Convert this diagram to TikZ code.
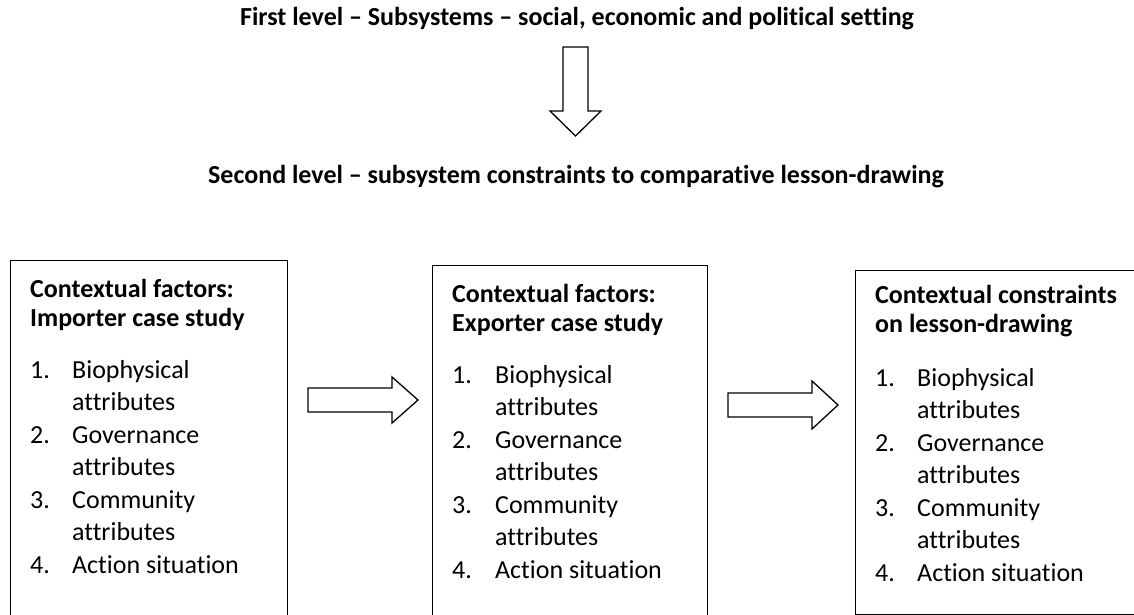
\documentclass[tikz,border=0pt]{standalone}
\usepackage{fontspec}
\setmainfont{Carlito}[Ligatures=NoCommon]
\begin{document}
\begin{tikzpicture}[x=1pt,y=-1pt,
  frame/.style={draw=black, line width=1.3pt, inner sep=0pt, anchor=north west},
  titletext/.style={font=\fontsize{26}{31}\selectfont\bfseries, anchor=base, inner sep=0pt},
  headtext/.style={font=\fontsize{26}{31}\selectfont\bfseries, anchor=base west, inner sep=0pt},
  itemtext/.style={font=\fontsize{26}{31}\selectfont, anchor=base west, inner sep=0pt},
  blockarrow/.style={draw=black, line width=1.3pt, fill=white, line join=miter}]
\useasboundingbox (0,0) rectangle (1134,615);
\clip (0,0) rectangle (1134,615);

% titles
\node[titletext] (t1) at (577,26) {First level – Subsystems – social, economic and political setting};
\node[titletext] (t2) at (576,183) {Second level – subsystem constraints to comparative lesson-drawing};

% down arrow
\draw[blockarrow] (563,47) -- (588,47) -- (588,111) -- (601,111) -- (575.5,136) -- (550,111) -- (563,111) -- cycle;

% boxes
\node[frame, minimum width=277pt, minimum height=400pt] (box1) at (10,260) {};
\node[frame, minimum width=275pt, minimum height=400pt] (box2) at (432,265) {};
\node[frame, minimum width=300pt, minimum height=344pt] (box3) at (855,270) {};

% box 1 text
\node[headtext] (h1a) at (30,297) {Contextual factors:};
\node[headtext] (h1b) at (30,326) {Importer case study};
\foreach \n/\t [count=\k from 0] in {1./Biophysical, /attributes, 2./Governance, /attributes, 3./Community, /attributes, 4./Action situation}
  \node[itemtext] (i1-\k) at (30,{378+\k*32.5}) {\makebox[42pt][l]{\n}\t};

% box 2 text
\node[headtext] (h2a) at (452,302) {Contextual factors:};
\node[headtext] (h2b) at (452,331) {Exporter case study};
\foreach \n/\t [count=\k from 0] in {1./Biophysical, /attributes, 2./Governance, /attributes, 3./Community, /attributes, 4./Action situation}
  \node[itemtext] (i2-\k) at (452,{383+\k*32.5}) {\makebox[43pt][l]{\n}\t};

% box 3 text
\node[headtext] (h3a) at (875,303) {Contextual constraints};
\node[headtext] (h3b) at (875,332) {on lesson-drawing};
\foreach \n/\t [count=\k from 0] in {1./Biophysical, /attributes, 2./Governance, /attributes, 3./Community, /attributes, 4./Action situation}
  \node[itemtext] (i3-\k) at (875,{386+\k*32.5}) {\makebox[42pt][l]{\n}\t};

% right arrows
\draw[blockarrow] (308,388) -- (392,388) -- (392,377) -- (418,400) -- (392,423) -- (392,412) -- (308,412) -- cycle;
\draw[blockarrow] (728,393) -- (812,393) -- (812,381) -- (838,405) -- (812,429) -- (812,417) -- (728,417) -- cycle;
\end{tikzpicture}
\end{document}
